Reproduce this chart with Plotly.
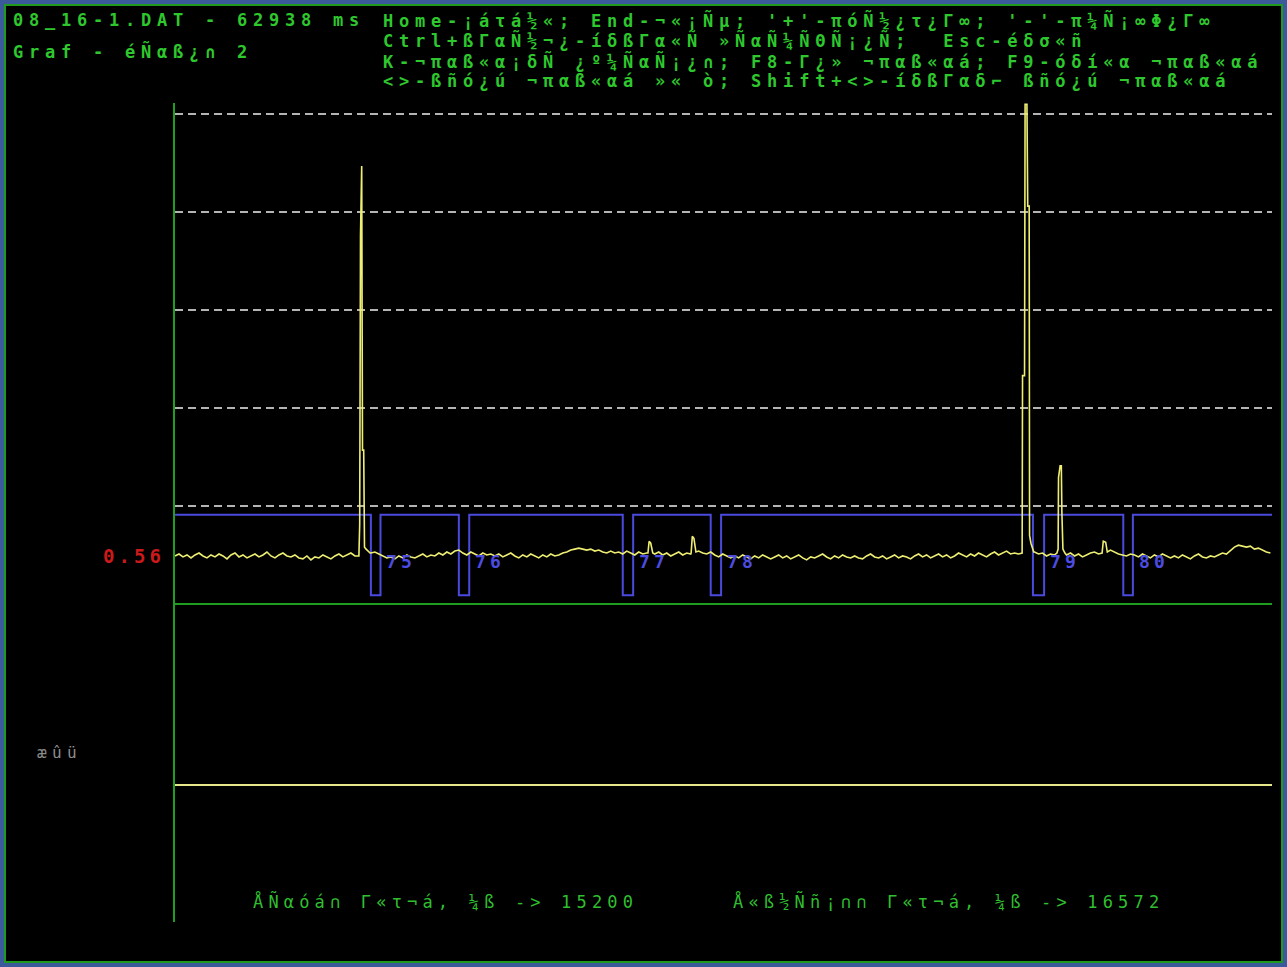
import plotly.graph_objects as go

# ---------------- data ----------------
t_start_ms = 15200
t_end_ms = 16572
file_name = "08_16-1.DAT"
file_len_ms = 62938
level_label = "0.56"

# channel signal: baseline samples every 5 ms starting at t_start_ms
base_step_ms = 5
base_vals = [
    0.49, 0.51, 0.48, 0.50, 0.47, 0.50, 0.52, 0.49, 0.47, 0.50,
    0.48, 0.51, 0.49, 0.46, 0.50, 0.52, 0.48, 0.50, 0.47, 0.49,
    0.51, 0.48, 0.50, 0.53, 0.49, 0.47, 0.50, 0.52, 0.49, 0.48,
    0.50, 0.47, 0.46, 0.49, 0.45, 0.48, 0.47, 0.50, 0.48, 0.46,
    0.49, 0.51, 0.48, 0.50, 0.52, 0.49, 0.50, 0.55, 0.56, 0.52,
    0.53, 0.51, 0.49, 0.47, 0.48, 0.46, 0.49, 0.47, 0.50, 0.48,
    0.47, 0.49, 0.51, 0.48, 0.50, 0.49, 0.52, 0.50, 0.53, 0.51,
    0.54, 0.55, 0.52, 0.50, 0.53, 0.51, 0.49, 0.52, 0.50, 0.51,
    0.49, 0.51, 0.48, 0.50, 0.52, 0.49, 0.47, 0.50, 0.48, 0.51,
    0.49, 0.47, 0.50, 0.48, 0.51, 0.49, 0.50, 0.52, 0.53, 0.55,
    0.56, 0.57, 0.56, 0.55, 0.56, 0.54, 0.55, 0.53, 0.52, 0.54,
    0.52, 0.53, 0.51, 0.54, 0.52, 0.50, 0.53, 0.51, 0.52, 0.52,
    0.51, 0.53, 0.50, 0.52, 0.49, 0.51, 0.53, 0.50, 0.52, 0.51,
    0.52, 0.54, 0.52, 0.51, 0.53, 0.50, 0.48, 0.51, 0.49, 0.47,
    0.49, 0.47, 0.50, 0.48, 0.46, 0.49, 0.47, 0.50, 0.48, 0.46,
    0.48, 0.50, 0.47, 0.49, 0.46, 0.48, 0.50, 0.47, 0.45, 0.48,
    0.47, 0.49, 0.51, 0.48, 0.46, 0.49, 0.47, 0.50, 0.48, 0.47,
    0.49, 0.47, 0.46, 0.49, 0.51, 0.48, 0.47, 0.49, 0.46, 0.48,
    0.50, 0.47, 0.49, 0.48, 0.46, 0.49, 0.51, 0.48, 0.50, 0.47,
    0.49, 0.51, 0.48, 0.50, 0.47, 0.49, 0.52, 0.50, 0.48, 0.51,
    0.49, 0.52, 0.50, 0.48, 0.51, 0.53, 0.50, 0.52, 0.54, 0.51,
    0.52, 0.51, 0.53, 0.52, 0.54, 0.53, 0.51, 0.52, 0.49, 0.51,
    0.50, 0.52, 0.51, 0.50, 0.52, 0.49, 0.51, 0.48, 0.50, 0.52,
    0.53, 0.51, 0.52, 0.53, 0.55, 0.53, 0.51, 0.50, 0.49, 0.51,
    0.50, 0.48, 0.51, 0.49, 0.47, 0.50, 0.48, 0.51, 0.49, 0.47,
    0.49, 0.47, 0.50, 0.48, 0.46, 0.49, 0.51, 0.48, 0.47, 0.49,
    0.48, 0.50, 0.52, 0.51, 0.55, 0.58, 0.60, 0.59, 0.58, 0.59,
    0.56, 0.57, 0.55, 0.53, 0.52,
]

# fast events (finely sampled)
spike1_t = [15430.0, 15431.0, 15432.0, 15433.5, 15434.5, 15436.0, 15437.0, 15439.0, 15442.0, 15444.0]
spike1_v = [0.49, 0.81, 3.76, 4.47, 1.57, 1.57, 0.58, 0.56, 0.53, 0.52]
bump1_t = [15791.5, 15793.0, 15795.0, 15797.5]
bump1_v = [0.52, 0.64, 0.62, 0.52]
bump2_t = [15845.5, 15847.0, 15849.0, 15851.5]
bump2_v = [0.52, 0.69, 0.67, 0.53]
spike2_t = [16259.5, 16260.0, 16262.5, 16263.2, 16265.5, 16266.5, 16268.3, 16268.8, 16270.5, 16274.0]
spike2_v = [0.52, 2.33, 2.33, 5.10, 5.10, 4.06, 4.06, 0.70, 0.62, 0.53]
spike3_t = [16303.0, 16304.5, 16305.0, 16307.0, 16308.5, 16309.2, 16310.5, 16313.0]
spike3_v = [0.52, 0.56, 1.29, 1.41, 1.41, 0.94, 0.56, 0.52]
bump3_t = [16359.5, 16361.0, 16364.0, 16366.0]
bump3_v = [0.52, 0.64, 0.63, 0.53]

# second channel (flat)
ch2_level = -1.847

# marker pulses
pulse_start = [15445, 15555, 15760, 15870, 16273, 16386]
pulse_end = [15457, 15568, 15773, 15883, 16287, 16398]
pulse_labels = ["75", "76", "77", "78", "79", "80"]
pulse_hi = 0.91
pulse_lo = 0.09
pulse_label_y = 0.43

grid_vals = [1, 2, 3, 4, 5]
y_min, y_max = -3.245, 5.112

# ---------------- build series ----------------
events = [(spike1_t, spike1_v), (bump1_t, bump1_v), (bump2_t, bump2_v),
          (spike2_t, spike2_v), (spike3_t, spike3_v), (bump3_t, bump3_v)]
pts = []
for i, v in enumerate(base_vals):
    t = t_start_ms + i * base_step_ms
    if any(ts[0] <= t <= ts[-1] for ts, _ in events):
        continue
    pts.append((t, v))
for ts, vs in events:
    pts.extend(zip(ts, vs))
pts.sort()
sig_t = [p[0] for p in pts]
sig_v = [p[1] for p in pts]

px_ = [t_start_ms]
py_ = [pulse_hi]
for s, e in zip(pulse_start, pulse_end):
    px_ += [s, s, e, e]
    py_ += [pulse_hi, pulse_lo, pulse_lo, pulse_hi]
px_.append(t_end_ms)
py_.append(pulse_hi)


def dos(s):
    return s.encode("cp866").decode("cp437")


def esc(s):
    return s.replace("&", "&amp;").replace("<", "&lt;").replace(">", "&gt;")


W, H = 1287, 967
L, R, T, B = 175, 15, 103, 45
PW, PH = W - L - R, H - T - B


def fx(p):
    return (p - L) / PW


def fy(p):
    return (H - B - p) / PH


MONO = "DejaVu Sans Mono"

fig = go.Figure()
fig.add_trace(go.Scatter(x=[t_start_ms, t_end_ms], y=[ch2_level, ch2_level], mode="lines",
                         line=dict(color="#e6e68a", width=2), hoverinfo="skip"))
fig.add_trace(go.Scatter(x=px_, y=py_, mode="lines",
                         line=dict(color="#4a4ade", width=2), hoverinfo="skip"))
fig.add_trace(go.Scatter(x=sig_t, y=sig_v, mode="lines",
                         line=dict(color="#eeee72", width=1.6), hoverinfo="skip"))

ann = []


def txt(s, x, y, size, color, spacing, bold=True, xanchor="left", xref="paper", yref="paper"):
    body = esc(s)
    if bold:
        body = "<b>" + body + "</b>"
    ann.append(dict(text='<span style="letter-spacing:%.2fpx">%s</span>' % (spacing, body),
                    x=x, y=y, xref=xref, yref=yref, xanchor=xanchor, yanchor="middle",
                    showarrow=False, borderpad=0,
                    font=dict(family=MONO, size=size, color=color)))


top_green = "#2ec82e"
TOP_FS = 17
sp_top = 16 - 0.602 * TOP_FS
txt("%s - %d ms" % (file_name, file_len_ms), fx(12), fy(20), TOP_FS, top_green, sp_top)
txt(dos("Graf - Версия 2"), fx(12), fy(51), TOP_FS, top_green, sp_top)
right_lines = [
    dos("Home-начало; End-конец; '+'-увеличить; '-'-уменьшить"),
    dos("Ctrl+стрелки-быстрое перемещение;  Esc-Выход"),
    dos("K-курсорные измерения; F8-тип курсора; F9-выбор курсора"),
    dos("<>-сдвиг курсора по Х; Shift+<>-быстрый сдвиг курсора"),
]
for k, line in enumerate(right_lines):
    txt(line, fx(382), fy(20 + 20.3 * k), TOP_FS, top_green, sp_top)

txt(level_label, fx(166), fy(556), 19, "#cc1a1a", 15.5 - 0.602 * 19, xanchor="right")
txt(dos("СЦБ"), fx(36), fy(752), 16, "#8c8c8c", 15 - 0.602 * 16, bold=False)

bot_green = "#2fbf2f"
sp_bot = 15.4 - 0.602 * 17
txt(dos("Первая точка, мс -> %d" % t_start_ms), fx(252), fy(901), 17, bot_green, sp_bot, bold=False)
txt(dos("Последняя точка, мс -> %d" % t_end_ms), fx(732), fy(901), 17, bot_green, sp_bot, bold=False)

for e, lab in zip(pulse_end, pulse_labels):
    txt(lab, e + 6, pulse_label_y, 18, "#4c4ce0", 15 - 0.602 * 18, xref="x", yref="y")

shapes = [
    dict(type="rect", xref="paper", yref="paper", layer="below",
         x0=fx(5), x1=fx(1282), y0=fy(962), y1=fy(5),
         fillcolor="#000000", line=dict(color="#1f9a1f", width=2)),
]

fig.update_layout(
    width=W, height=H, autosize=False,
    margin=dict(l=L, r=R, t=T, b=B, pad=0),
    paper_bgcolor="#3a5a9c", plot_bgcolor="#000000",
    showlegend=False, shapes=shapes, annotations=ann,
    xaxis=dict(range=[t_start_ms, t_end_ms], showgrid=False, zeroline=False,
               showline=False, showticklabels=False, ticks="", fixedrange=True),
    yaxis=dict(range=[y_min, y_max], tickvals=grid_vals, showticklabels=False, ticks="",
               showgrid=True, gridcolor="#b4b4b4", gridwidth=2, griddash="8px,5px",
               zeroline=True, zerolinecolor="#1f9f1f", zerolinewidth=2,
               showline=True, linecolor="#1f9f1f", linewidth=2, fixedrange=True),
)

fig.write_html("out.html", config={"displayModeBar": False, "staticPlot": True},
               post_script="document.body.style.margin='0';document.body.style.overflow='hidden';")
